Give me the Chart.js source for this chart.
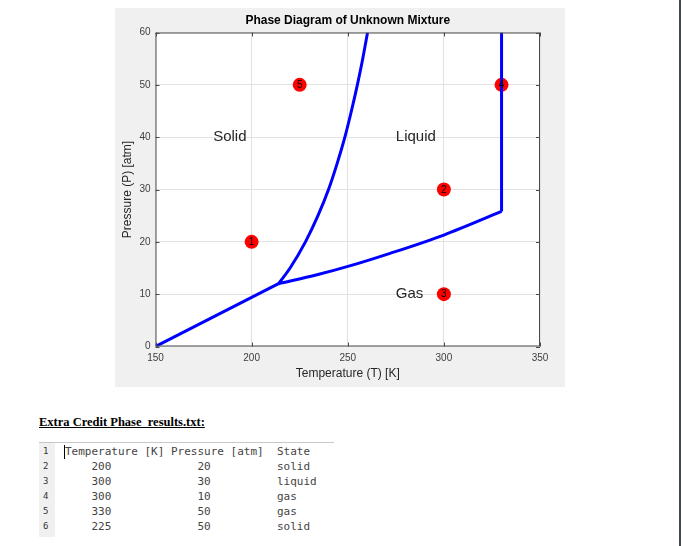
<!DOCTYPE html>
<html>
<head>
<meta charset="utf-8">
<script src="https://cdn.jsdelivr.net/npm/chart.js@4"></script>
<style>
  body { margin: 0; background: #fff; width: 681px; height: 546px; position: relative; overflow: hidden; }
  #fig { position: absolute; left: 115px; top: 8px; width: 450px; height: 379px; background: #f0f0f0; }
  #edge { position: absolute; left: 679px; top: 0; width: 2px; height: 546px; background: #40484b; }
  #hdr { position: absolute; left: 39px; top: 415px; font: bold 12.5px "Liberation Serif", "Times New Roman", serif; text-decoration: underline; color: #000; }
  #rule { position: absolute; left: 39px; top: 442px; width: 295px; height: 1px; background: #c8c8c8; }
  #gutter { position: absolute; left: 39px; top: 443px; width: 16px; height: 94px; background: #f0f0f0; }
  #nums { position: absolute; left: 43px; top: 444px; margin: 0; font: 9px "DejaVu Sans Mono", monospace; line-height: 15px; color: #333; }
  #txt { position: absolute; left: 65px; top: 444px; margin: 0; font: 11px "DejaVu Sans Mono", monospace; line-height: 15px; color: #444; }
  #caret { position: absolute; left: 64px; top: 445px; width: 1px; height: 14px; background: #000; }
</style>
</head>
<body>
<div id="fig"><canvas id="phase" width="450" height="379"></canvas></div>
<div id="edge"></div>
<div id="hdr">Extra Credit Phase_results.txt:</div>
<div id="rule"></div>
<div id="gutter"></div>
<pre id="nums">1
2
3
4
5
6</pre>
<pre id="txt">Temperature [K] Pressure [atm]  State
    200             20          solid
    300             30          liquid
    300             10          gas
    330             50          gas
    225             50          solid</pre>
<div id="caret"></div>
<script>
// phase boundaries, temperature in K and pressure in atm
var solidGasT = [150, 214];
var solidGasP = [0, 12];
var solidLiquidT = [214, 220, 228, 234.5, 240, 244.5, 248.5, 251.9, 255, 257.8, 260.3];
var solidLiquidP = [12, 15, 20, 25, 30, 35, 40, 45, 50, 55, 60];
var liquidGasT = [214, 234, 251, 272, 300, 330];
var liquidGasP = [12, 13.7, 15.4, 17.8, 21.3, 25.8];
var criticalT = [330, 330];
var criticalP = [25.8, 60];

// test states from the results file
var stateNums = ['1', '2', '3', '4', '5'];
var stateT = [200, 300, 300, 330, 225];
var stateP = [20, 30, 10, 50, 50];

// region labels
var regionNames = ['Solid', 'Liquid', 'Gas'];
var regionT = [180, 275, 275];
var regionP = [40, 40, 10];

var xTicks = [150, 200, 250, 300, 350];
var yTicks = [0, 10, 20, 30, 40, 50, 60];

var FONT = '"Liberation Sans", Arial, sans-serif';

function pts(xs, ys) {
    return xs.map(function(x, i) { return { x: x, y: ys[i] }; });
}

function curve(xs, ys, mode) {
    return {
        type: 'line',
        data: pts(xs, ys),
        borderColor: '#0000ff',
        borderWidth: 3,
        pointRadius: 0,
        fill: false,
        cubicInterpolationMode: mode || 'default',
        tension: 0
    };
}

// white axes background, centred title, box, inward ticks, texts
var extras = {
    id: 'extras',
    afterLayout: function(chart) {
        // MATLAB centres the title over the axes, not the figure
        if (chart.titleBlock) {
            chart.titleBlock.left = chart.chartArea.left;
            chart.titleBlock.right = chart.chartArea.right;
        }
    },
    beforeDraw: function(chart) {
        var a = chart.chartArea;
        chart.ctx.save();
        chart.ctx.fillStyle = '#ffffff';
        chart.ctx.fillRect(a.left, a.top, a.right - a.left, a.bottom - a.top);
        chart.ctx.restore();
    },
    afterDatasetsDraw: function(chart) {
        var ctx = chart.ctx;
        var a = chart.chartArea;
        var xs = chart.scales.x, ys = chart.scales.y;
        ctx.save();
        ctx.strokeStyle = '#4a4a4a';
        ctx.lineWidth = 1;
        ctx.strokeRect(a.left + 0.5, a.top + 0.5, a.right - a.left - 1, a.bottom - a.top - 1);
        ctx.beginPath();
        xTicks.forEach(function(t) {
            var px = Math.round(xs.getPixelForValue(t)) + 0.5;
            ctx.moveTo(px, a.bottom); ctx.lineTo(px, a.bottom - 4);
            ctx.moveTo(px, a.top); ctx.lineTo(px, a.top + 4);
        });
        yTicks.forEach(function(t) {
            var py = Math.round(ys.getPixelForValue(t)) + 0.5;
            ctx.moveTo(a.left, py); ctx.lineTo(a.left + 4, py);
            ctx.moveTo(a.right, py); ctx.lineTo(a.right - 4, py);
        });
        ctx.stroke();

        ctx.fillStyle = '#262626';
        ctx.font = '15px ' + FONT;
        ctx.textAlign = 'left';
        ctx.textBaseline = 'middle';
        regionNames.forEach(function(n, i) {
            ctx.fillText(n, xs.getPixelForValue(regionT[i]), ys.getPixelForValue(regionP[i]));
        });

        var meta = chart.getDatasetMeta(4);
        ctx.fillStyle = '#000';
        ctx.font = '10px ' + FONT;
        ctx.textAlign = 'center';
        meta.data.forEach(function(el, i) {
            ctx.fillText(stateNums[i], el.x, el.y + 0.5);
        });
        ctx.restore();
    }
};

var ctx = document.getElementById('phase').getContext('2d');
var phaseChart = new Chart(ctx, {
    type: 'scatter',
    data: {
        datasets: [
            curve(solidGasT, solidGasP),
            curve(solidLiquidT, solidLiquidP, 'monotone'),
            curve(liquidGasT, liquidGasP, 'monotone'),
            curve(criticalT, criticalP),
            {
                type: 'scatter',
                data: pts(stateT, stateP),
                backgroundColor: '#ff0000',
                borderWidth: 0,
                pointRadius: 7,
                pointHoverRadius: 7
            }
        ]
    },
    options: {
        responsive: false,
        animation: false,
        layout: { padding: { left: 0, right: 25, top: 0, bottom: 0 } },
        scales: {
            x: {
                type: 'linear',
                min: 150,
                max: 350,
                afterFit: function(s) { s.height = 40.5; },
                afterBuildTicks: function(s) { s.ticks = xTicks.map(function(v) { return { value: v }; }); },
                grid: { color: '#e2e2e2', drawTicks: false },
                border: { display: false },
                ticks: { padding: 6, color: '#404040', font: { size: 10, family: FONT } },
                title: {
                    display: true,
                    text: 'Temperature (T) [K]',
                    color: '#262626',
                    font: { size: 12, family: FONT },
                    padding: { top: 0, bottom: 6 }
                }
            },
            y: {
                min: 0,
                max: 60,
                afterFit: function(s) { s.width = 40.5; },
                afterBuildTicks: function(s) { s.ticks = yTicks.map(function(v) { return { value: v }; }); },
                grid: { color: '#e2e2e2', drawTicks: false },
                border: { display: false },
                ticks: { padding: 5, color: '#404040', font: { size: 10, family: FONT } },
                title: {
                    display: true,
                    text: 'Pressure (P) [atm]',
                    color: '#262626',
                    font: { size: 12, family: FONT },
                    padding: { top: 5, bottom: 0 }
                }
            }
        },
        plugins: {
            legend: { display: false },
            tooltip: { enabled: false },
            title: {
                display: true,
                text: 'Phase Diagram of Unknown Mixture',
                color: '#000',
                font: { size: 12, weight: 'bold', family: FONT },
                padding: { top: 5, bottom: 5.1 }
            }
        }
    },
    plugins: [extras]
});
</script>
</body>
</html>
